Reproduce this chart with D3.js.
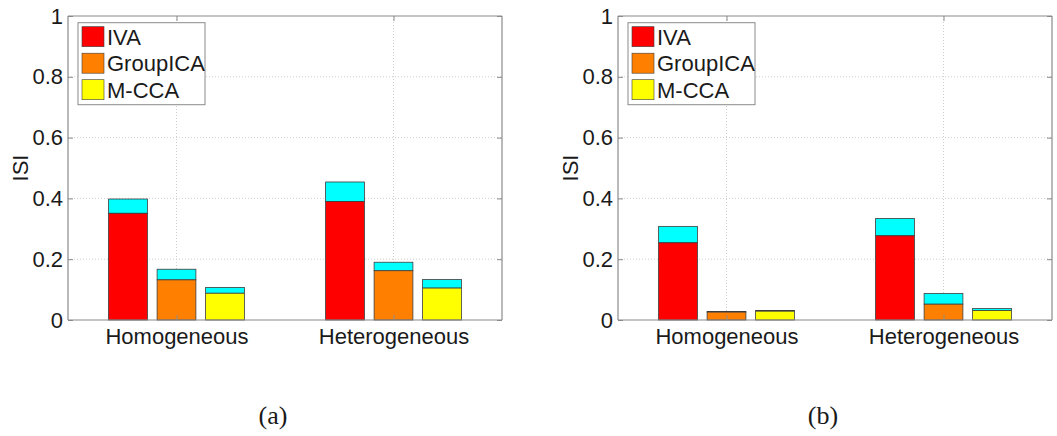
<!DOCTYPE html>
<html>
<head>
<meta charset="utf-8">
<script src="https://cdn.jsdelivr.net/npm/d3@7"></script>
<style>
  body { margin: 0; background: #fff; }
  svg { display: block; }
  text { font-family: "Liberation Sans", Arial, sans-serif; fill: #1a1a1a; }
</style>
</head>
<body>
<svg id="chart" width="1057" height="436"></svg>
<script>
// categories
const groups = ["Homogeneous", "Heterogeneous"];
const methods = ["IVA", "GroupICA", "M-CCA"];
const yTicks = [0, 0.2, 0.4, 0.6, 0.8, 1];
const panelLabels = ["(a)", "(b)"];

// panel (a): mean ISI per method (Homogeneous, Heterogeneous) and the cyan part on top
const meanA_IVA = [0.351, 0.390];
const meanA_GroupICA = [0.132, 0.162];
const meanA_MCCA = [0.088, 0.105];
const extraA_IVA = [0.047, 0.064];
const extraA_GroupICA = [0.035, 0.028];
const extraA_MCCA = [0.019, 0.028];

// panel (b)
const meanB_IVA = [0.254, 0.277];
const meanB_GroupICA = [0.026, 0.052];
const meanB_MCCA = [0.029, 0.031];
const extraB_IVA = [0.054, 0.057];
const extraB_GroupICA = [0.002, 0.035];
const extraB_MCCA = [0.002, 0.007];

const methodColors = ["#ff0000", "#ff8000", "#ffff00"];
const topColor = "#00ffff";

const panels = [
  { label: panelLabels[0], left: 68, mean: [meanA_IVA, meanA_GroupICA, meanA_MCCA], extra: [extraA_IVA, extraA_GroupICA, extraA_MCCA] },
  { label: panelLabels[1], left: 618, mean: [meanB_IVA, meanB_GroupICA, meanB_MCCA], extra: [extraB_IVA, extraB_GroupICA, extraB_MCCA] }
];

const svg = d3.select("#chart");
const W = 434, yTop = 16, yBottom = 320;
const axisCol = "#8a8a8a";

panels.forEach(p => {
  const g = svg.append("g").attr("transform", `translate(${p.left},0)`);

  const x = d3.scaleLinear().domain([0.5, 2.5]).range([0, W]);
  const xb = d3.scaleBand().domain(methods).range([-72.75, 72.75]).paddingInner(0.2).paddingOuter(0.1);
  const y = d3.scaleLinear().domain([0, 1]).range([yBottom, yTop]);

  // grid
  g.append("g").selectAll("line")
    .data(yTicks.slice(1, -1))
    .join("line")
    .attr("x1", 0).attr("x2", W)
    .attr("y1", d => y(d)).attr("y2", d => y(d))
    .attr("stroke", "#cfcfcf").attr("stroke-dasharray", "1,2");
  g.append("g").selectAll("line")
    .data(groups)
    .join("line")
    .attr("x1", (d, i) => x(i + 1)).attr("x2", (d, i) => x(i + 1))
    .attr("y1", yTop).attr("y2", yBottom)
    .attr("stroke", "#cfcfcf").attr("stroke-dasharray", "1,2");

  // bars
  methods.forEach((m, k) => {
    const bars = g.append("g");
    groups.forEach((grp, i) => {
      const bx = x(i + 1) + xb(m);
      const base = p.mean[k][i];
      const tot = base + p.extra[k][i];
      bars.append("rect")
        .attr("x", bx).attr("width", xb.bandwidth())
        .attr("y", y(tot)).attr("height", y(base) - y(tot))
        .attr("fill", topColor).attr("stroke", "#3c3c3c").attr("stroke-width", 0.8);
      bars.append("rect")
        .attr("x", bx).attr("width", xb.bandwidth())
        .attr("y", y(base)).attr("height", y(0) - y(base))
        .attr("fill", methodColors[k]).attr("stroke", "#3c3c3c").attr("stroke-width", 0.8);
    });
  });

  // axes
  const yAxis = d3.axisLeft(y).tickValues(yTicks).tickSize(-5).tickPadding(5).tickFormat(d3.format("~g"));
  const ya = g.append("g").call(yAxis);
  const yr = g.append("g").attr("transform", `translate(${W},0)`).call(d3.axisRight(y).tickValues(yTicks).tickSize(-5).tickFormat(""));
  const xAxis = d3.axisBottom(x).tickValues([1, 2]).tickSize(-5).tickPadding(8).tickFormat(d => groups[d - 1]);
  const xa = g.append("g").attr("transform", `translate(0,${yBottom})`).call(xAxis);
  const xt = g.append("g").attr("transform", `translate(0,${yTop})`).call(d3.axisTop(x).tickValues([1, 2]).tickSize(-5).tickFormat(""));
  [ya, yr, xa, xt].forEach(a => {
    a.selectAll("path").attr("stroke", axisCol).attr("stroke-width", 1.2);
    a.selectAll("line").attr("stroke", axisCol);
    a.selectAll("text").style("font-size", "22px").attr("fill", "#1a1a1a");
  });
  ya.select(".domain").attr("d", `M0,${yTop}V${yBottom}`);
  yr.select(".domain").attr("d", `M0,${yTop}V${yBottom}`);
  xa.select(".domain").attr("d", `M0,0H${W}`);
  xt.select(".domain").attr("d", `M0,0H${W}`);

  // y label
  g.append("text")
    .attr("transform", `translate(-40,${(yTop + yBottom) / 2}) rotate(-90)`)
    .attr("text-anchor", "middle")
    .style("font-size", "22px")
    .text("ISI");

  // legend
  const lg = g.append("g").attr("transform", "translate(10,22.7)");
  lg.append("rect").attr("width", 127).attr("height", 82)
    .attr("fill", "#fff").attr("stroke", axisCol);
  methods.forEach((m, k) => {
    lg.append("rect").attr("x", 4).attr("y", 4 + k * 26.5).attr("width", 22).attr("height", 20)
      .attr("fill", methodColors[k]).attr("stroke", "#3c3c3c").attr("stroke-width", 0.6);
    lg.append("text").attr("x", 29).attr("y", 22 + k * 26.5)
      .style("font-size", "22px").text(m);
  });

  // panel caption
  svg.append("text")
    .attr("x", p.left + 205).attr("y", 424)
    .attr("text-anchor", "middle")
    .style("font-family", "'Liberation Serif', 'Times New Roman', serif")
    .style("font-size", "26px")
    .text(p.label);
});
</script>
</body>
</html>
